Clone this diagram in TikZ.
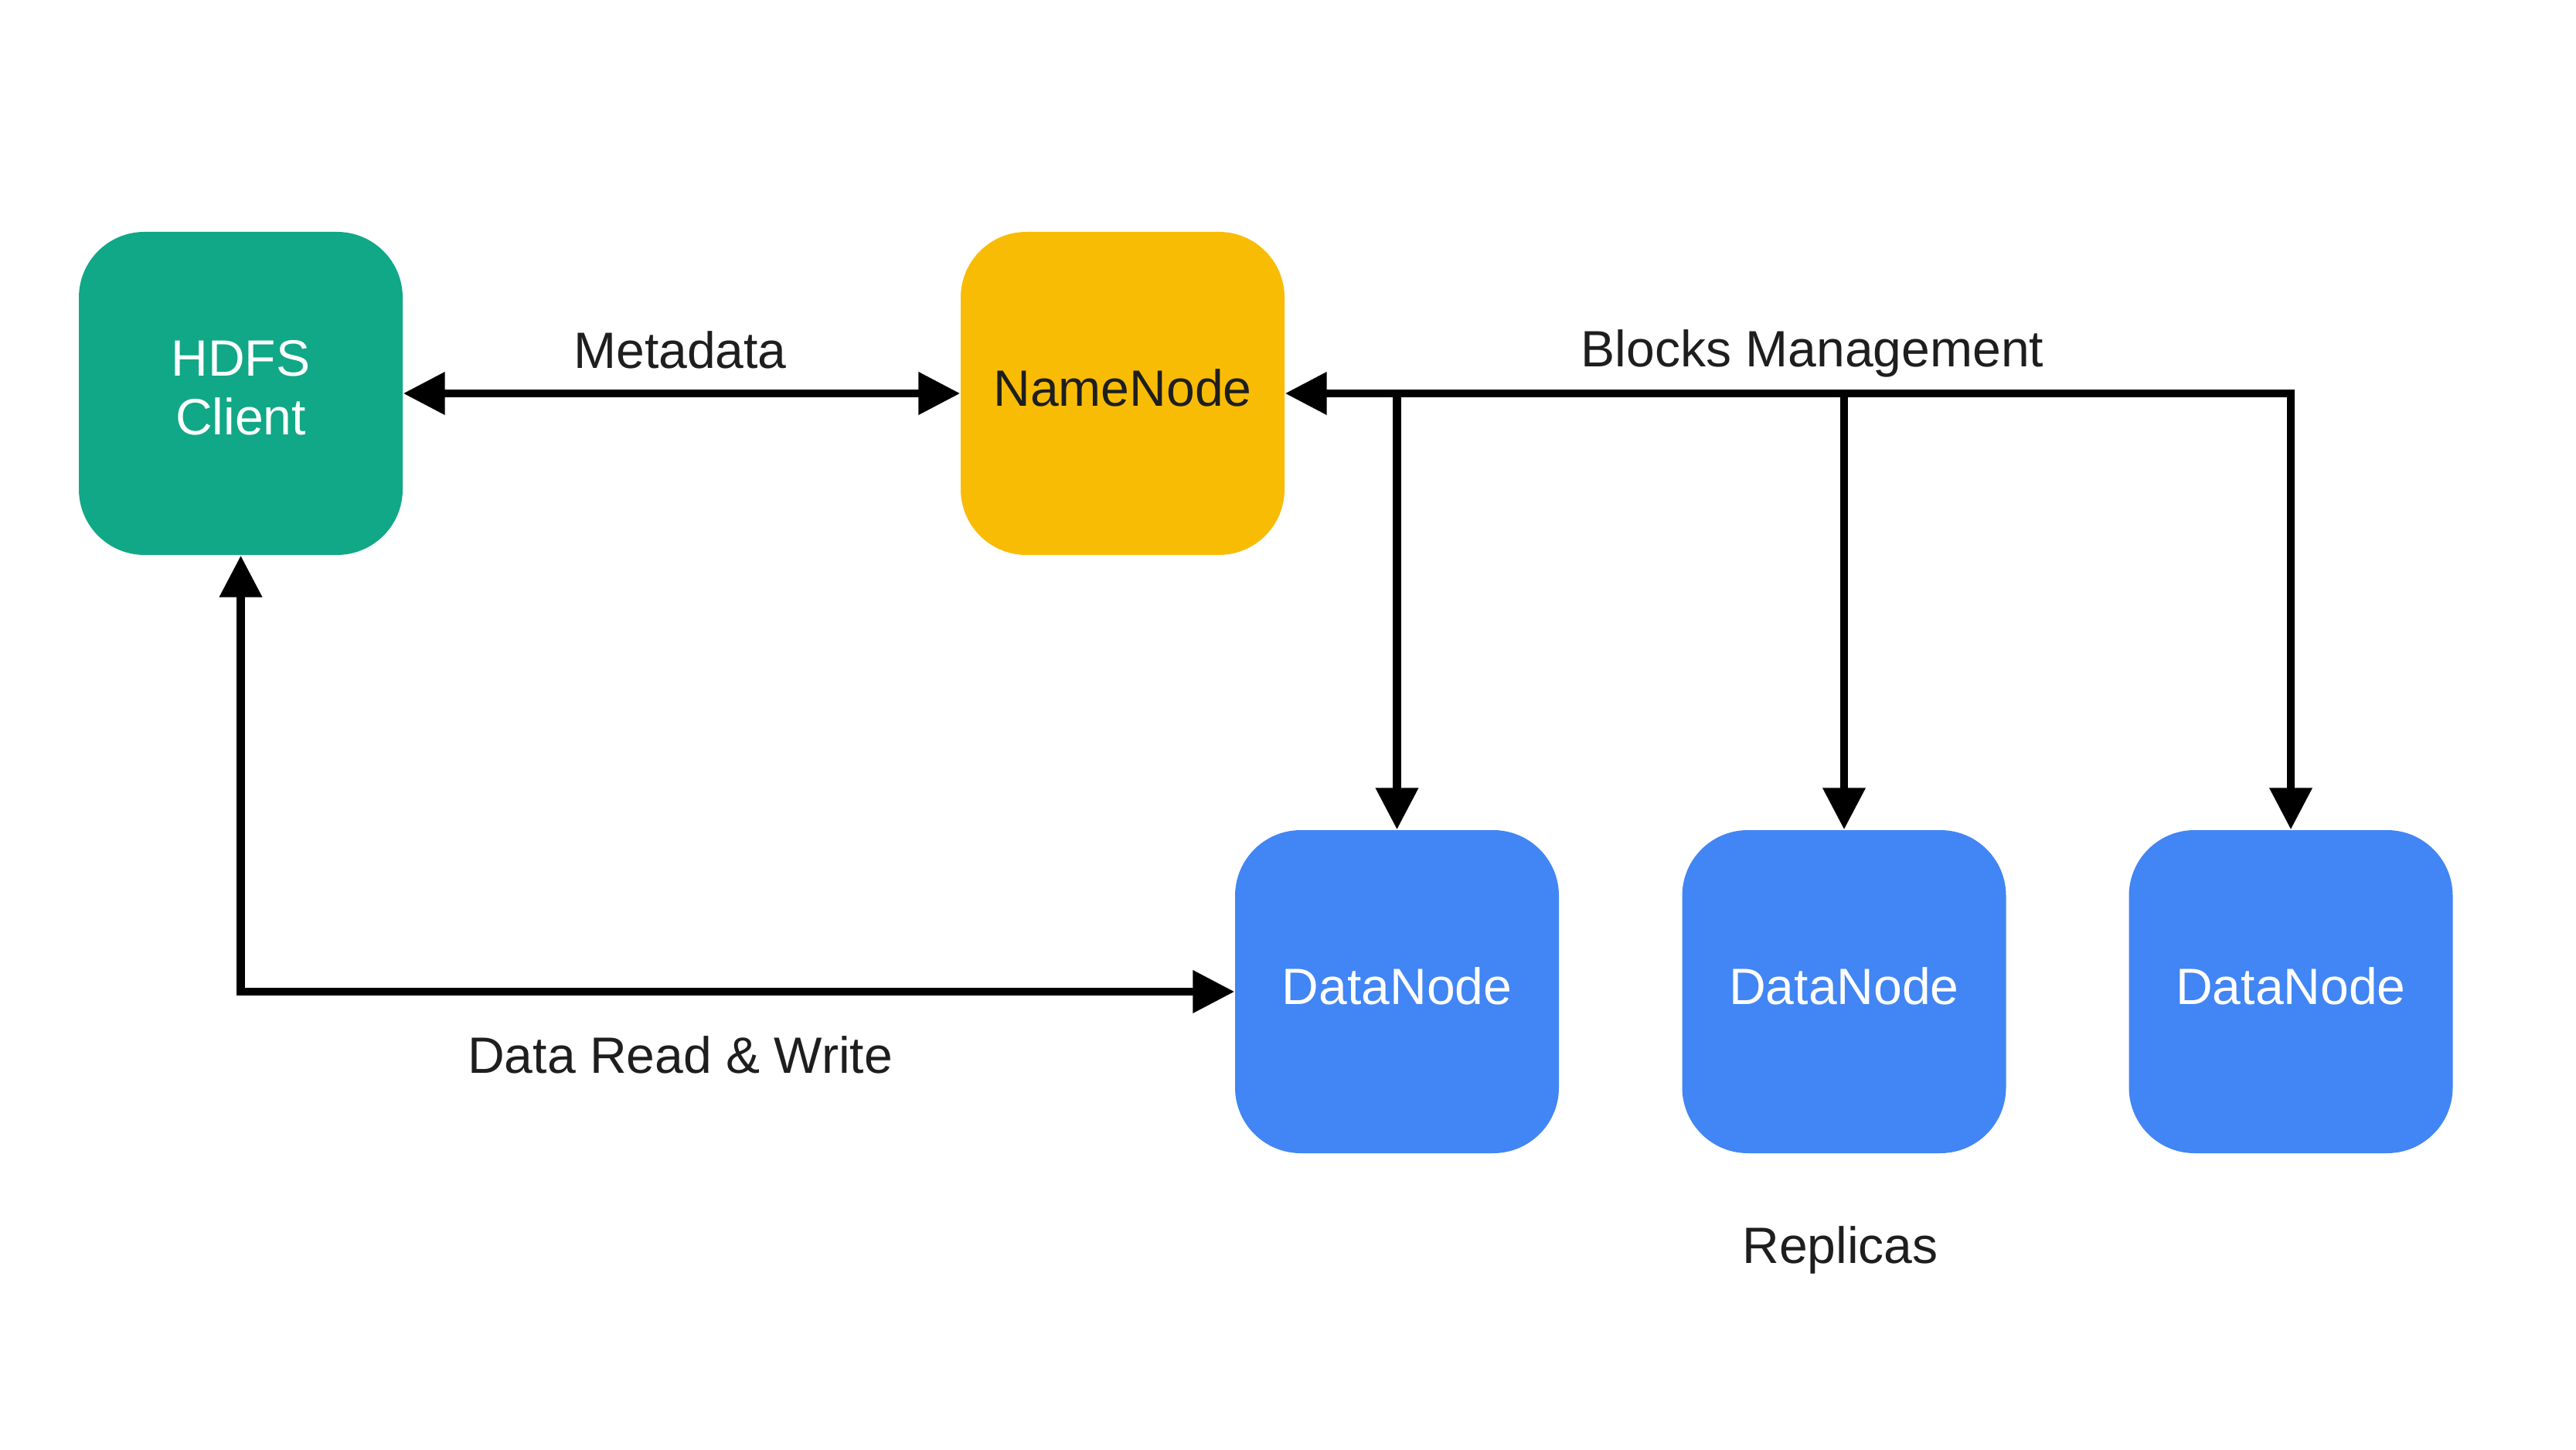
\documentclass[tikz,border=0pt]{standalone}
\usepackage{fontspec}
\setmainfont{Liberation Sans}
\usetikzlibrary{arrows.meta}
\definecolor{cgreen}{HTML}{10A887}
\definecolor{cyellow}{HTML}{F9BC05}
\definecolor{cblue}{HTML}{4285F4}
\definecolor{ctext}{HTML}{1E1E1E}
\tikzset{
  box/.style={rounded corners=0.85cm, minimum width=4.19cm, minimum height=4.18cm, inner sep=0pt, align=center, font=\fontsize{18.8}{21.6}\selectfont},
  lbl/.style={font=\fontsize{18.8}{21.6}\selectfont, text=ctext, inner sep=0pt},
  conn/.style={line width=3pt, line join=miter, -{Triangle[length=0.54cm,width=0.53cm]}},
  bconn/.style={line width=3pt, line join=miter, {Triangle[length=0.54cm,width=0.53cm]}-{Triangle[length=0.54cm,width=0.53cm]}},
}
\begin{document}
\begin{tikzpicture}
\useasboundingbox (0,0) rectangle (33.33,18.75);
\fill[white] (0,0) rectangle (33.33,18.75);
\node[box, fill=cgreen] (client) at (3.115,13.66) {};
\node[box, fill=cyellow] (nn) at (14.525,13.66) {};
\node[box, fill=cblue] (dn1) at (18.075,5.92) {};
\node[box, fill=cblue] (dn2) at (23.86,5.92) {};
\node[box, fill=cblue] (dn3) at (29.64,5.92) {};
\node[lbl, text=white, align=center] (tclient) at ([yshift=0.07cm]client.center) {HDFS\\Client};
\node[lbl, text=ctext] (tnn) at ([yshift=0.07cm]nn.center) {NameNode};
\node[lbl, text=white] (tdn1) at ([yshift=0.07cm]dn1.center) {DataNode};
\node[lbl, text=white] (tdn2) at ([yshift=0.07cm]dn2.center) {DataNode};
\node[lbl, text=white] (tdn3) at ([yshift=0.07cm]dn3.center) {DataNode};
% connectors
\coordinate (j3) at (dn3.north |- nn.east);
\draw[bconn] (client.east) -- (nn.west);
\draw[conn] (j3) -- (nn.east);
\draw[conn] (dn1.north |- nn.east) -- (dn1.north);
\draw[conn] (dn2.north |- nn.east) -- (dn2.north);
\draw[conn] ([yshift=1.5pt]j3) -- (dn3.north);
\draw[bconn] (client.south) |- (dn1.west);
% labels
\node[lbl] (lmeta) at (8.80,14.22) {Metadata};
\node[lbl] (lblocks) at (23.45,14.18) {Blocks Management};
\node[lbl] (ldata) at (8.80,5.10) {Data Read \& Write};
\node[lbl] (lrep) at (23.81,2.58) {Replicas};
\end{tikzpicture}
\end{document}
